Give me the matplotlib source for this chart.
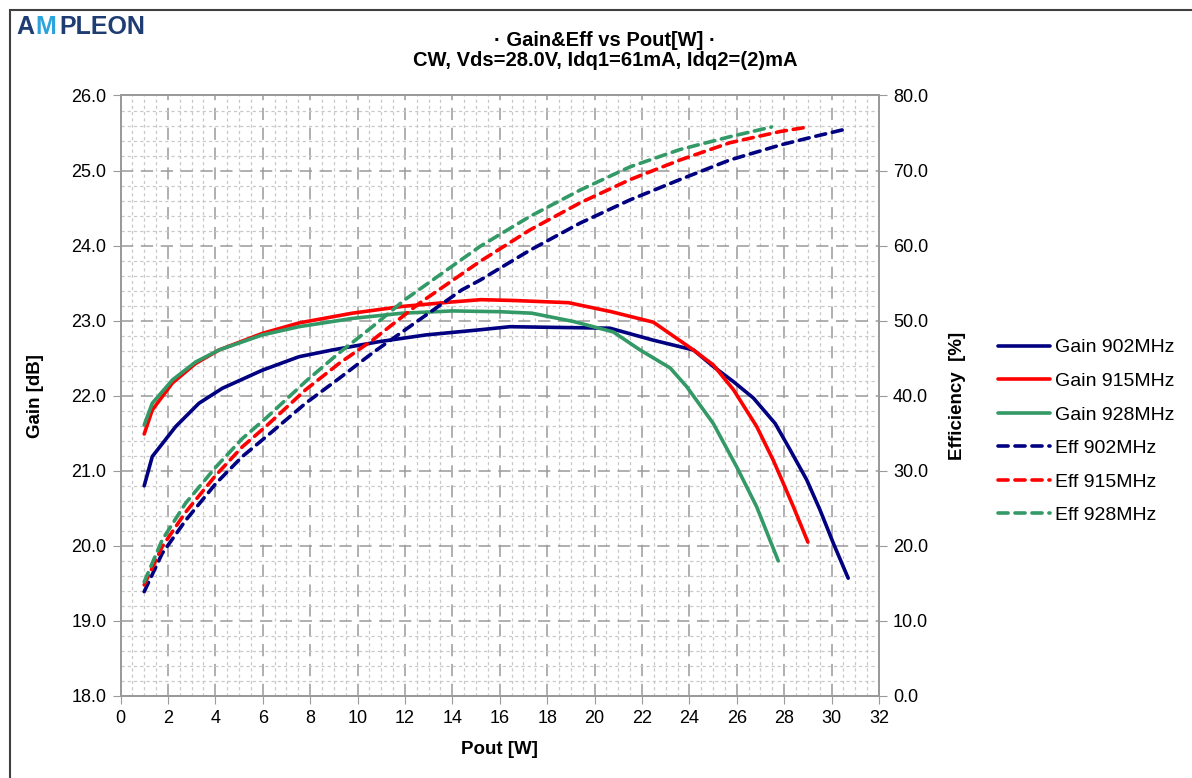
import matplotlib
matplotlib.use("Agg")
import matplotlib.pyplot as plt
from matplotlib.patches import Rectangle
from matplotlib.ticker import MultipleLocator, FormatStrFormatter
from matplotlib.lines import Line2D

plt.rcParams['font.family'] = ['Liberation Sans', 'DejaVu Sans']

# ---------------- data ----------------
pout_g902 = [1.0, 1.34, 2.33, 3.31, 4.30, 5.98, 7.53, 8.94, 10.9, 12.88, 15.2, 16.43, 18.5, 20.65, 22.48, 24.17, 25.01, 25.85, 26.70, 27.62, 28.25, 28.95, 29.51, 30.08, 30.7]
gain_902 = [20.80, 21.19, 21.59, 21.90, 22.10, 22.34, 22.52, 22.61, 22.72, 22.81, 22.88, 22.92, 22.91, 22.90, 22.74, 22.61, 22.39, 22.19, 21.97, 21.63, 21.28, 20.88, 20.48, 20.03, 19.57]

pout_g915 = [1.0, 1.34, 2.19, 3.17, 4.16, 5.98, 7.53, 9.78, 11.89, 14.0, 15.2, 16.5, 18.9, 20.7, 22.48, 24.17, 25.01, 25.86, 26.84, 27.54, 27.9, 28.39, 29.0]
gain_915 = [21.49, 21.81, 22.17, 22.43, 22.61, 22.83, 22.97, 23.10, 23.19, 23.25, 23.28, 23.27, 23.24, 23.12, 22.98, 22.61, 22.41, 22.08, 21.59, 21.14, 20.88, 20.52, 20.05]

pout_g928 = [1.0, 1.34, 2.19, 3.17, 4.16, 5.98, 7.53, 9.78, 11.89, 14.0, 15.97, 17.35, 19.1, 20.79, 21.92, 23.19, 23.89, 25.01, 26.0, 26.84, 27.75]
gain_928 = [21.61, 21.90, 22.21, 22.45, 22.61, 22.81, 22.92, 23.03, 23.10, 23.13, 23.12, 23.10, 22.99, 22.85, 22.61, 22.37, 22.12, 21.63, 21.05, 20.52, 19.80]

pout_e902 = [1.0, 1.76, 2.75, 4.02, 5.14, 6.13, 7.81, 9.22, 10.63, 12.6, 14.4, 15.17, 17.28, 19.39, 21.5, 23.6, 25.7, 27.83, 29.23, 30.7]
eff_902 = [13.9, 19.0, 23.4, 28.3, 31.9, 34.5, 39.0, 42.3, 45.7, 50.1, 54.1, 55.4, 59.4, 63.0, 66.1, 68.8, 71.4, 73.4, 74.5, 75.6]

pout_e915 = [1.0, 1.76, 2.75, 4.02, 5.14, 6.13, 7.81, 9.22, 10.63, 12.6, 15.17, 17.28, 19.39, 21.5, 23.6, 25.7, 27.83, 29.0]
eff_915 = [14.8, 19.9, 24.5, 29.4, 33.2, 35.9, 40.8, 44.3, 47.4, 52.3, 57.9, 62.1, 65.7, 68.8, 71.4, 73.7, 75.2, 75.8]

pout_e928 = [1.0, 1.76, 2.75, 4.02, 5.14, 6.13, 7.81, 9.22, 10.63, 12.0, 15.17, 17.28, 19.39, 21.5, 23.6, 25.7, 27.46]
eff_928 = [15.2, 20.8, 25.7, 30.5, 34.3, 37.0, 41.9, 45.7, 49.2, 52.8, 59.9, 63.9, 67.4, 70.5, 72.8, 74.5, 75.8]

labels = ["Gain 902MHz", "Gain 915MHz", "Gain 928MHz", "Eff 902MHz", "Eff 915MHz", "Eff 928MHz"]
colors = ["#000080", "#FF0000", "#339966"]

# ---------------- figure ----------------
W, H = 1192, 778
fig = plt.figure(figsize=(W / 100, H / 100), dpi=100)
fig.patch.set_facecolor('white')

# outer frame
fig.patches.append(Rectangle((10 / W, -0.2), 1.2, (H - 10) / H + 0.2, transform=fig.transFigure,
                             fill=False, ec='#404040', lw=1.5, zorder=0))

ax = fig.add_axes([120.5 / W, 1 - 696 / H, (879 - 120.5) / W, (696 - 95.5) / H])
ax2 = ax.twinx()

ax.xaxis.set_major_locator(MultipleLocator(2))
ax.xaxis.set_minor_locator(MultipleLocator(0.5))
ax.yaxis.set_major_locator(MultipleLocator(1))
ax.yaxis.set_minor_locator(MultipleLocator(0.2))
ax2.yaxis.set_major_locator(MultipleLocator(10))
ax.yaxis.set_major_formatter(FormatStrFormatter('%.1f'))
ax2.yaxis.set_major_formatter(FormatStrFormatter('%.1f'))

ax.grid(which='minor', color='#c8c8c8', linestyle=(0, (2.5, 2.5)), linewidth=0.9)
ax.grid(which='major', color='#9a9a9a', linestyle=(0, (8, 5)), linewidth=1.1)
ax.set_axisbelow(True)

for a in (ax, ax2):
    for s in a.spines.values():
        s.set_color('#9a9a9a')
        s.set_linewidth(1.3)
ax.tick_params(which='major', direction='out', length=6, color='#9a9a9a', labelsize=13, pad=4)
ax.tick_params(which='minor', length=0)
ax2.tick_params(which='major', direction='out', length=6, color='#9a9a9a', labelsize=13, pad=4)

lw = 2.6
dash = (0, (2.8, 1.9))
ax.plot(pout_g902, gain_902, color=colors[0], lw=lw, solid_capstyle='round', zorder=3)
ax.plot(pout_g915, gain_915, color=colors[1], lw=lw, solid_capstyle='round', zorder=3)
ax.plot(pout_g928, gain_928, color=colors[2], lw=lw, solid_capstyle='round', zorder=3)
ax2.plot(pout_e902, eff_902, color=colors[0], lw=lw, linestyle=dash, dash_capstyle='round')
ax2.plot(pout_e915, eff_915, color=colors[1], lw=lw, linestyle=dash, dash_capstyle='round')
ax2.plot(pout_e928, eff_928, color=colors[2], lw=lw, linestyle=dash, dash_capstyle='round')

ax.set_xlim(0, 32)
ax.set_ylim(18, 26)
ax2.set_ylim(0, 80)

ax.set_xlabel("Pout [W]", fontsize=13.5, fontweight='bold', labelpad=10)
ax.set_ylabel("Gain [dB]", fontsize=13.5, fontweight='bold', labelpad=20)
ax2.set_ylabel("Efficiency  [%]", fontsize=13.5, fontweight='bold', labelpad=15)

# legend
handles = []
for i in range(3):
    handles.append(Line2D([], [], color=colors[i], lw=lw, solid_capstyle='round'))
for i in range(3):
    handles.append(Line2D([], [], color=colors[i], lw=lw, linestyle=dash, dash_capstyle='round'))
fig.legend(handles, labels, loc='upper left', bbox_to_anchor=(990 / W, 1 - 331 / H),
           frameon=False, fontsize=14, handlelength=2.7, handletextpad=0.25,
           labelspacing=0.82, borderaxespad=0)

# titles
fig.text(605 / W, 1 - 41 / H, "· Gain&Eff vs Pout[W] ·", ha='center', va='center',
         fontsize=14.5, fontweight='bold')
fig.text(605 / W, 1 - 61 / H, "CW, Vds=28.0V, Idq1=61mA, Idq2=(2)mA", ha='center', va='center',
         fontsize=14.5, fontweight='bold')

# logo
fig.text(16 / W, 1 - 27 / H, "A", ha='left', va='center', fontsize=18, fontweight='bold', color='#1f3c73')
fig.text(35 / W, 1 - 27 / H, "M", ha='left', va='center', fontsize=18, fontweight='bold', color='#2ba3dc')
fig.text(59 / W, 1 - 27 / H, "PLEON", ha='left', va='center', fontsize=18, fontweight='bold', color='#1f3c73')

fig.savefig("out.png", dpi=100)
